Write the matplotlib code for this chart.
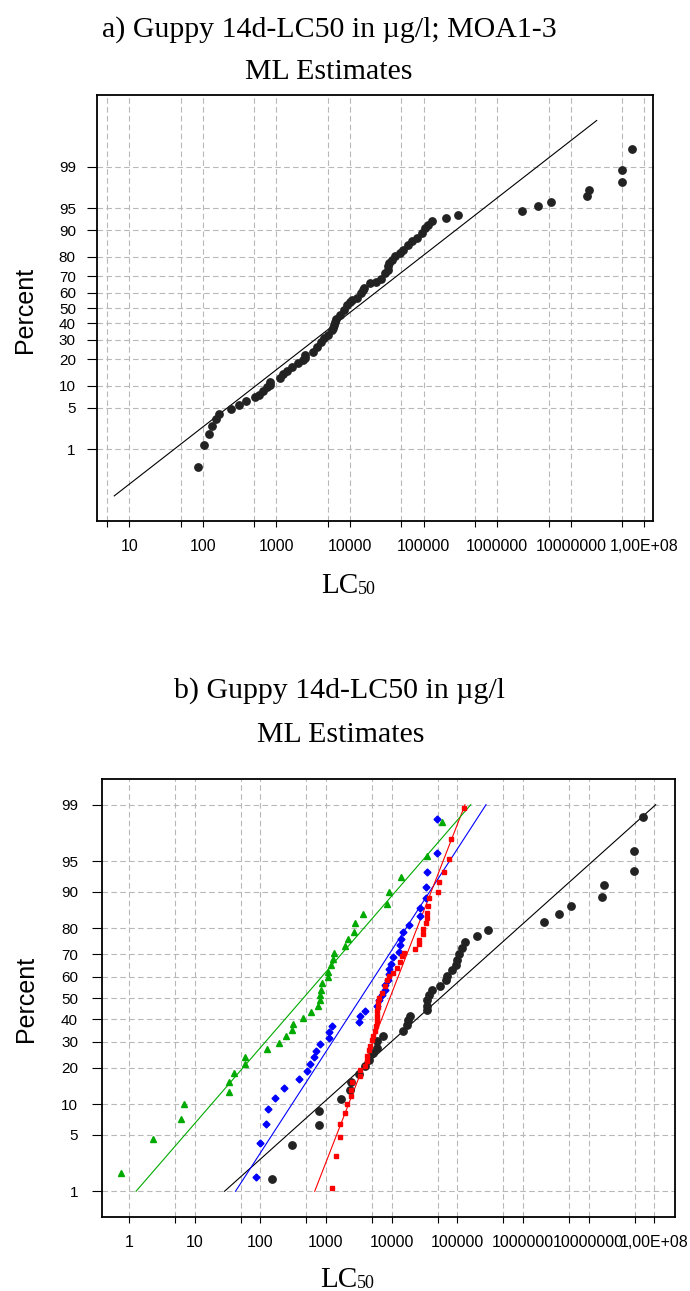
import numpy as np
import matplotlib
matplotlib.use('Agg')
import matplotlib.pyplot as plt
from matplotlib.ticker import NullFormatter, NullLocator
from statistics import NormalDist

# ---- data ----
pct_ticks = [1, 5, 10, 20, 30, 40, 50, 60, 70, 80, 90, 95, 99]

# a) all MOA1-3 together
a_lc50 = [87, 103, 121, 132, 149, 167, 239, 307, 386, 506,
          574, 656, 738, 817, 817, 1117, 1216, 1405, 1627, 1982,
          2275, 2445, 2445, 3170, 3524, 4034, 4474, 5070, 5640, 5900,
          6120, 6300, 6450, 7310, 8290, 9190, 10100, 10540, 12330, 13970,
          15200, 15490, 18700, 22550, 26120, 29900, 32500, 33100, 33800, 36900,
          40900, 47900, 53000, 62000, 69000, 80500, 94200, 104500, 115900, 128800,
          201800, 293800, 2.16e6, 3.59e6, 5.40e6, 1.65e7, 1.75e7, 4.93e7, 4.93e7, 6.87e7]
a_pct = [0.44, 1.19, 1.93, 2.64, 3.35, 4.06, 4.78, 5.53, 6.24, 7.09,
         7.7, 8.54, 9.51, 10.3, 11.1, 12.4, 13.8, 15.0, 16.75, 18.2,
         19.4, 20.6, 22.0, 23.2, 26.0, 28.7, 31.0, 33.0, 35.6, 37.3,
         39.1, 41.0, 42.8, 45.6, 48.9, 52.2, 54.0, 55.0, 56.6, 59.8,
         61.9, 62.9, 66.0, 66.4, 68.4, 71.8, 73.5, 75.5, 77.3, 78.7,
         80.3, 81.8, 83.2, 85.2, 86.4, 87.6, 89.2, 90.7, 91.5, 92.35,
         93.1, 93.8, 94.5, 95.3, 96.0, 96.7, 97.4, 98.1, 98.84, 99.57]
a_fit_x = [6.25, 2.25e7]
a_fit_pct = [0.098, 99.90]

# b) split by group
b_black_lc50 = [149, 307, 791, 791, 1675, 2322, 2404, 3220, 3972, 4571,
                5150, 5920, 5920, 7310, 15060, 17330, 17950, 19050, 34900, 34900,
                34900, 37500, 41200, 54600, 66600, 69000, 82200, 94600, 100000, 107400,
                118000, 132500, 199500, 290000, 2.11e6, 3.50e6, 5.40e6, 1.62e7, 1.71e7, 4.86e7,
                4.86e7, 6.67e7]
b_black_pct = [1.47, 3.88, 6.26, 8.61, 11.1, 13.3, 15.6, 18.1, 20.8, 22.9,
               25.4, 27.4, 30.1, 32.5, 34.4, 37.1, 39.4, 41.6, 44.1, 46.3,
               48.8, 51.6, 53.6, 55.9, 58.4, 60.6, 63.0, 65.6, 67.8, 70.2,
               72.6, 74.8, 77.2, 79.4, 82.0, 84.5, 86.7, 88.9, 91.4, 93.7,
               96.2, 98.53]
b_red_lc50 = [1235, 1406, 1636, 1636, 1972, 2070, 2378, 2378, 2462, 3296,
              3350, 3930, 4170, 4250, 4570, 4650, 4970, 5200, 5590, 5750,
              5920, 6000, 6000, 6200, 6300, 6490, 7050, 7920, 8410, 9210,
              10600, 11940, 13400, 14200, 15400, 22700, 26100, 26300, 29700, 30200,
              33400, 34000, 34500, 36200, 36800, 51400, 52500, 62700, 75500, 80200,
              126500]
b_red_pct = [1.11, 2.89, 4.67, 6.52, 8.32, 10.2, 11.8, 13.5, 15.5, 17.5,
             19.2, 20.5, 22.3, 24.4, 26.7, 28.3, 30.5, 32.2, 34.4, 36.6,
             38.9, 41.3, 43.6, 45.7, 47.9, 50.0, 52.4, 55.6, 58.7, 60.3,
             61.8, 64.1, 66.6, 69.2, 70.6, 72.2, 74.3, 75.8, 78.0, 79.8,
             81.6, 83.2, 84.7, 86.5, 88.5, 90.0, 91.8, 93.5, 95.3, 97.2,
             98.9]
b_blue_lc50 = [85, 100, 121, 132, 167, 232, 388, 508, 571, 657,
               705, 811, 1099, 1120, 1248, 3150, 3297, 3972, 6050, 6490,
               7130, 7840, 7950, 8710, 9120, 9200, 9770, 10370, 13090, 13400,
               13900, 14730, 18370, 26700, 27200, 33400, 33400, 34500, 49600, 49600]
b_blue_pct = [1.56, 4.05, 6.52, 9.14, 11.4, 14.0, 16.5, 19.1, 21.5, 23.9,
              26.3, 29.0, 31.3, 33.9, 36.6, 38.6, 41.3, 43.9, 46.3, 48.8,
              51.4, 53.6, 56.2, 58.7, 61.4, 63.6, 66.0, 68.9, 71.1, 73.8,
              76.2, 78.5, 81.1, 83.7, 86.1, 88.5, 90.9, 93.5, 95.95, 98.44]
b_green_lc50 = [0.748, 2.32, 6.26, 6.81, 33.7, 33.7, 40.2, 58.5, 58.5, 125,
                194, 243, 300, 318, 451, 597, 748, 802, 815, 849,
                879, 1084, 1084, 1192, 1264, 1324, 1948, 2188, 2700, 2800,
                3625, 8410, 9210, 13900, 34900, 59100]
b_green_pct = [1.76, 4.49, 7.31, 10.1, 12.9, 15.6, 18.4, 21.2, 24.0, 26.8,
               29.4, 32.2, 35.0, 37.9, 40.5, 43.1, 46.0, 48.8, 51.4, 54.0,
               57.2, 59.8, 62.4, 65.3, 68.1, 70.7, 73.3, 76.2, 78.8, 81.7,
               84.5, 87.2, 89.9, 92.7, 95.6, 98.27]
# fitted lines, end points at 1 % and 99 %
b_fit_pct = [1, 99]
b_black_fit = [28.5, 1.05e8]
b_red_fit = [673, 131000]
b_blue_fit = [41.9, 273600]
b_green_fit = [1.28, 160000]

# ---- normal probability scale for the percent axis ----
_nd = NormalDist()
_ppf = np.vectorize(lambda q: _nd.inv_cdf(min(max(q, 1e-12), 1 - 1e-12)), otypes=[float])
_cdf = np.vectorize(_nd.cdf, otypes=[float])


def pct_fwd(p):
    return _ppf(np.asarray(p, float) / 100.0)


def pct_inv(z):
    return _cdf(np.asarray(z, float)) * 100.0


plt.rcParams['font.family'] = ['Liberation Sans', 'DejaVu Sans']
serif = ['Liberation Serif', 'DejaVu Serif']

W, H = 690, 1291
fig = plt.figure(figsize=(6.9, 12.91), dpi=100)


def setup(ax, xlim, ylim, xmaj, xlabels, xmin, ypad):
    ax.set_xscale('log')
    ax.set_yscale('function', functions=(pct_fwd, pct_inv))
    ax.set_xlim(xlim)
    ax.set_ylim(ylim)
    ax.set_xticks(xmaj)
    ax.set_xticklabels(xlabels)
    ax.set_xticks(xmin, minor=True)
    ax.xaxis.set_minor_formatter(NullFormatter())
    ax.set_yticks(pct_ticks)
    ax.set_yticklabels([str(t) for t in pct_ticks])
    ax.yaxis.set_minor_locator(NullLocator())
    ax.set_axisbelow(True)
    ax.grid(True, which='both', color='#b8b8b8', ls=(0, (5, 3)), lw=0.8)
    ax.tick_params(axis='x', which='both', length=4, width=0.8, pad=9,
                   labelsize=11.5, direction='out')
    ax.tick_params(axis='y', length=7, width=0.8, pad=ypad, labelsize=11)
    for s in ax.spines.values():
        s.set_linewidth(1.3)


def lc50_label(x, y):
    # "LC" with a small "50" next to it, as in the source figure
    fig.text((x + 5) / W, 1 - y / H, 'LC', ha='right', va='baseline', fontsize=21, family=serif)
    fig.text((x + 5) / W, 1 - (y + 1) / H, '50', ha='left', va='baseline', fontsize=13, family=serif)


# panel a
ax_a = fig.add_axes([96.7 / W, 1 - 521 / H, (653 - 96.7) / W, (521 - 95) / H])
setup(ax_a, (3.61, 1.31e8), (0.0224, 99.9776),
      [10, 100, 1000, 10000, 100000, 1000000, 10000000, 1e8],
      ['10', '100', '1000', '10000', '100000', '1000000', '10000000', '1,00E+08'],
      [5, 50, 500, 5000, 50000, 5e5, 5e6, 5e7], 8)
ax_a.plot(a_fit_x, a_fit_pct, color='black', lw=0.8)
ax_a.plot(a_lc50, a_pct, ls='none', marker='o', ms=5.3, mfc='#222222', mec='#222222')

# panel b
ax_b = fig.add_axes([101.7 / W, 1 - 1216.7 / H, (674.5 - 101.7) / W, (1216.7 - 779.3) / H])
setup(ax_b, (0.384, 2.03e8), (0.424, 99.576),
      [1, 10, 100, 1000, 10000, 100000, 1000000, 10000000, 1e8],
      ['1', '10', '100', '1000', '10000', '100000', '1000000', '10000000', '1,00E+08'],
      [5, 50, 500, 5000, 50000, 5e5, 5e6, 5e7], 10)
ax_b.plot(b_black_fit, b_fit_pct, color='black', lw=0.8)
ax_b.plot(b_blue_fit, b_fit_pct, color='#0000ff', lw=0.8)
ax_b.plot(b_red_fit, b_fit_pct, color='#ff0000', lw=0.8)
ax_b.plot(b_green_fit, b_fit_pct, color='#00aa00', lw=0.8)
ax_b.plot(b_black_lc50, b_black_pct, ls='none', marker='o', ms=5.3, mfc='#222222', mec='#222222')
ax_b.plot(b_blue_lc50, b_blue_pct, ls='none', marker='D', ms=3.5, mfc='#0000ff', mec='#0000ff')
ax_b.plot(b_red_lc50, b_red_pct, ls='none', marker='s', ms=3, mfc='#ff0000', mec='#ff0000')
ax_b.plot(b_green_lc50, b_green_pct, ls='none', marker='^', ms=4, mfc='#00aa00', mec='#00aa00')

# texts
fig.text(329 / W, 1 - 37 / H, 'a) Guppy 14d-LC50 in µg/l; MOA1-3', ha='center', va='baseline',
         fontsize=21.5, family=serif)
fig.text(328.5 / W, 1 - 79 / H, 'ML Estimates', ha='center', va='baseline', fontsize=21.5, family=serif)
fig.text(340 / W, 1 - 698 / H, 'b) Guppy 14d-LC50 in µg/l', ha='center', va='baseline',
         fontsize=21.5, family=serif)
fig.text(341 / W, 1 - 741.7 / H, 'ML Estimates', ha='center', va='baseline', fontsize=21.5, family=serif)
fig.text(25 / W, 1 - 310 / H, 'Percent', rotation=90, ha='center', va='center', fontsize=18)
fig.text(26 / W, 1 - 999 / H, 'Percent', rotation=90, ha='center', va='center', fontsize=18)
lc50_label(353, 593)
lc50_label(352, 1287)

fig.savefig('out.png', dpi=100)
